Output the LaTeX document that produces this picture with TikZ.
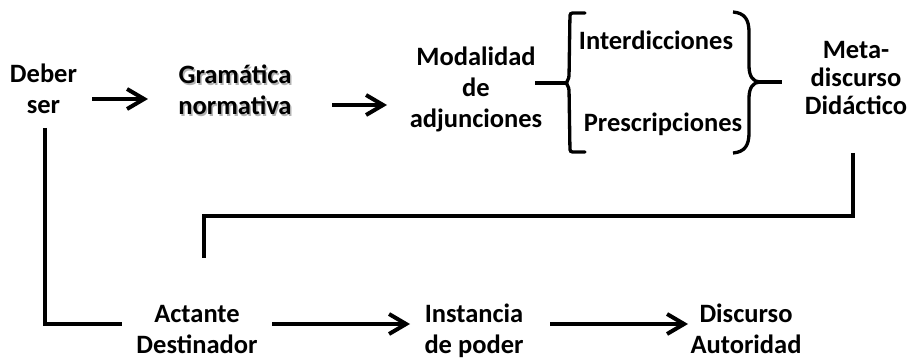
\documentclass[tikz,border=0pt]{standalone}
\usepackage{fontspec}
\setmainfont{Carlito}
\usepackage{tikz}
\usetikzlibrary{arrows.meta,positioning}

\begin{document}
\begin{tikzpicture}[
  x=1pt, y=-1pt,
  every node/.style={align=center, inner sep=0pt, anchor=base,
    font=\fontsize{26.5}{31}\selectfont\bfseries},
  tight/.style={font=\fontsize{26.5}{28}\selectfont\bfseries},
  arr/.style={line width=4pt, -{Straight Barb[length=17pt,width=20pt]}},
  link/.style={line width=4pt},
  brk/.style={line width=3.3pt, line cap=round, rounded corners=2.5pt}
]
\useasboundingbox (0,0) rectangle (910,358);

% fila de arriba
\node (deber) at (43.5,114) {Deber\\ser};
\node[text=black!30] (gramsh) at (236.5,116.5) {Gramática\\normativa};
\node (gram) at (235,115) {Gramática\\normativa};
\node (modal) at (476,128) {Modalidad\\de\\adjunciones};
\node (interd) at (656,50) {Interdicciones};
\node (presc) at (663,132) {Prescripciones};
\node[tight] (meta) at (856,115) {Meta-\\discurso\\Didáctico};

% fila de abajo
\node (act) at (197,353) {Actante\\Destinador};
\node (inst) at (474,353) {Instancia\\de poder};
\node (disc) at (746,353) {Discurso\\Autoridad};

% llaves
\coordinate (lbr) at (566,83);
\coordinate (rbr) at (760,82);
\draw[brk] (585,13) -- (570,13) -- (569,78) -- (lbr) -- (569,88) -- (570,152) -- (585,152);
\draw[line width=3.3pt] (733,12) .. controls (745,13) and (749,20) .. (749,32)
  -- (749,66) .. controls (749,76) and (753,82) .. (rbr)
  .. controls (753,82) and (749,88) .. (749,98)
  -- (749,133) .. controls (749,145) and (745,152) .. (733,153);

% flechas
\draw[arr] ([shift={(48.5,-15)}]deber.base) -- ([shift={(-87,-16)}]gram.base);
\draw[arr] ([shift={(97,-10)}]gram.base) -- ([shift={(-89,-23)}]modal.base);
\draw[arr] ([shift={(75,-29)}]act.base) -- ([shift={(-64,-29)}]inst.base);
\draw[arr] ([shift={(76,-29)}]inst.base) -- ([shift={(-58,-29)}]disc.base);

% lineas
\draw[link] ([shift={(59,-45)}]modal.base) -- (lbr);
\draw[link] (rbr) -- ([shift={(-74,-33)}]meta.base);
\draw[link] ([shift={(1.5,14)}]deber.base) |- ([shift={(-75,-29)}]act.base);
\draw[link] ([shift={(-3.5,38)}]meta.base) -- ++(0,63) -| ([shift={(7,-95)}]act.base);
\end{tikzpicture}
\end{document}
